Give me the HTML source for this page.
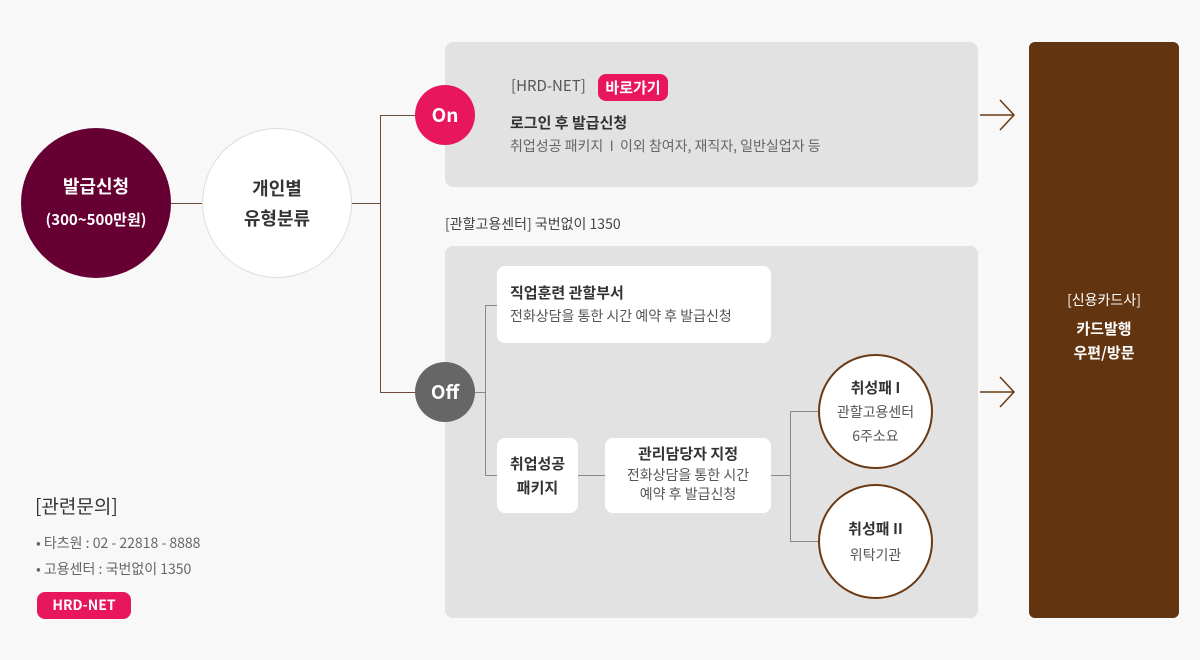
<!DOCTYPE html>
<html><head><meta charset="utf-8"><style>
*{margin:0;padding:0;box-sizing:border-box}
body{width:1200px;height:660px;background:#f8f8f8;position:relative;overflow:hidden;font-family:"Noto Sans CJK KR","Liberation Sans",sans-serif;color:#333;line-height:1.3}
.a{position:absolute}
.c{position:absolute;border-radius:50%;display:flex;flex-direction:column;align-items:center;justify-content:center;text-align:center}
.l{position:absolute;background:#6d4a33}
.g{position:absolute;background:#888}
.box{position:absolute;background:#fff;border-radius:8px}
</style></head><body>
<div class="c" style="left:21px;top:128px;width:150px;height:150px;background:#660033;color:#fff;font-weight:bold;font-size:18px;line-height:34px">발급신청<span style="font-size:15px">(300~500만원)</span></div>
<div class="c" style="left:202px;top:128px;width:150px;height:150px;background:#fff;border:1px solid #ddd;font-weight:bold;font-size:18px;line-height:30px;color:#333">개인별<br>유형분류</div>
<div class="l" style="left:171px;top:203px;width:31px;height:1px"></div>
<div class="l" style="left:352px;top:203px;width:28px;height:1px"></div>
<div class="l" style="left:380px;top:115px;width:1px;height:278px"></div>
<div class="l" style="left:380px;top:115px;width:36px;height:1px"></div>
<div class="l" style="left:380px;top:392px;width:36px;height:1px"></div>

<div class="a" style="left:445px;top:42px;width:533px;height:145px;background:#e2e2e2;border-radius:8px"></div>
<div class="c" style="left:415px;top:85px;width:60px;height:60px;background:#e8175d;color:#fff;font-weight:bold;font-size:19px">On</div>
<div class="a" style="left:511px;top:76px;font-size:15px;color:#555">[HRD-NET]</div>
<div class="a" style="left:598px;top:74px;width:70px;height:27px;background:#e8175d;border-radius:8px;color:#fff;font-weight:bold;font-size:15px;text-align:center;line-height:27px">바로가기</div>
<div class="a" style="left:510px;top:113px;font-size:15px;font-weight:bold;color:#333">로그인 후 발급신청</div>
<div class="a" style="left:510px;top:137px;font-size:14px;color:#666">취업성공 패키지 &nbsp;I&nbsp; 이외 참여자, 재직자, 일반실업자 등</div>

<div class="a" style="left:445px;top:215px;font-size:14px;color:#444">[관할고용센터] 국번없이 1350</div>
<div class="a" style="left:445px;top:246px;width:533px;height:372px;background:#e2e2e2;border-radius:8px"></div>
<div class="c" style="left:415px;top:362px;width:60px;height:60px;background:#666;color:#fff;font-weight:bold;font-size:19px">Off</div>
<div class="g" style="left:475px;top:392px;width:10px;height:1px"></div>
<div class="g" style="left:485px;top:305px;width:1px;height:171px"></div>
<div class="g" style="left:485px;top:305px;width:12px;height:1px"></div>
<div class="g" style="left:485px;top:475px;width:12px;height:1px"></div>
<div class="box" style="left:497px;top:266px;width:274px;height:77px"></div>
<div class="a" style="left:510px;top:283px;font-size:15px;font-weight:bold">직업훈련 관할부서</div>
<div class="a" style="left:510px;top:307px;font-size:14px;color:#555">전화상담을 통한 시간 예약 후 발급신청</div>
<div class="box" style="left:497px;top:438px;width:81px;height:75px;display:flex;align-items:center;justify-content:center;text-align:center;font-weight:bold;font-size:15px;line-height:24px">취업성공<br>패키지</div>
<div class="g" style="left:578px;top:475px;width:27px;height:1px"></div>
<div class="box" style="left:605px;top:438px;width:166px;height:75px;text-align:center;padding-top:4px"><div style="font-weight:bold;font-size:15px;line-height:24px">관리담당자 지정</div><div style="font-size:14px;color:#555;line-height:19px">전화상담을 통한 시간<br>예약 후 발급신청</div></div>
<div class="g" style="left:771px;top:475px;width:19px;height:1px"></div>
<div class="g" style="left:790px;top:411px;width:1px;height:131px"></div>
<div class="g" style="left:790px;top:411px;width:28px;height:1px"></div>
<div class="g" style="left:790px;top:541px;width:28px;height:1px"></div>
<div class="c" style="left:818px;top:354px;width:115px;height:115px;background:#fff;border:2px solid #6b3a14;line-height:24px"><b style="font-size:15px">취성패 I</b><span style="font-size:14px;color:#555">관할고용센터</span><span style="font-size:14px;color:#555">6주소요</span></div>
<div class="c" style="left:818px;top:484px;width:115px;height:115px;background:#fff;border:2px solid #6b3a14;line-height:26px"><b style="font-size:15px">취성패 II</b><span style="font-size:14px;color:#555">위탁기관</span></div>

<svg class="a" style="left:978px;top:95px" width="40" height="320"><g fill="none" stroke="#6b3a14" stroke-width="1.5"><path d="M2 20H35M22 5L36 20L22 35"/><path d="M2 297H35M22 282L36 297L22 312"/></g></svg>

<div class="a" style="left:1029px;top:42px;width:150px;height:576px;background:#62340f;border-radius:6px;color:#fff;text-align:center"><div style="margin-top:249px;font-size:14px">[신용카드사]</div><div style="margin-top:8px;font-weight:bold;font-size:15px;line-height:24px">카드발행<br>우편/방문</div></div>

<div class="a" style="left:35px;top:494px;font-size:19px;color:#333">[관련문의]</div>
<div class="a" style="left:36px;top:530px;font-size:14px;color:#666;line-height:26px">• 타츠원 : 02 - 22818 - 8888<br>• 고용센터 : 국번없이 1350</div>
<div class="a" style="left:37px;top:592px;width:94px;height:27px;background:#e8175d;border-radius:8px;color:#fff;font-weight:bold;font-size:14px;text-align:center;line-height:27px">HRD-NET</div>
</body></html>
